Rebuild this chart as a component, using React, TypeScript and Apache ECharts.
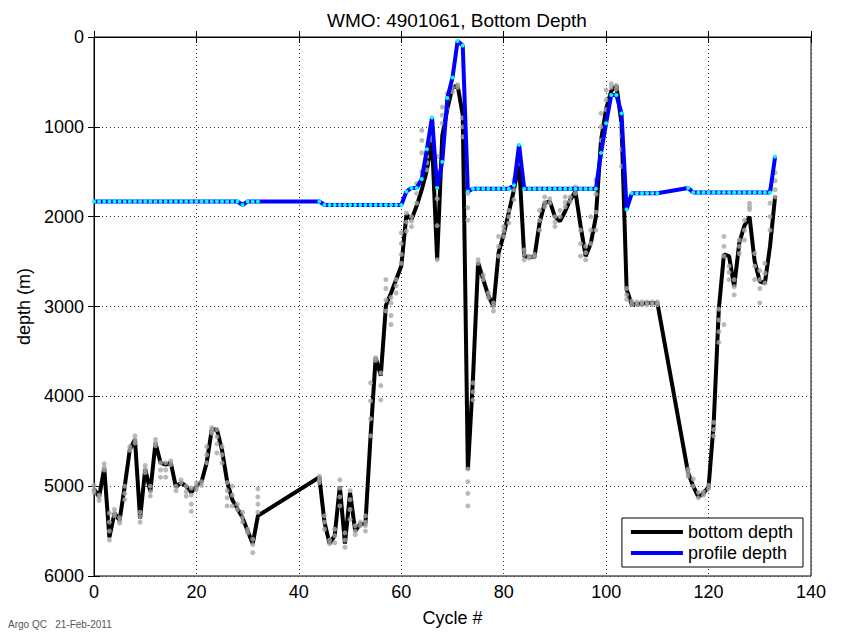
import React, { useEffect, useRef } from "react";
import * as echarts from "echarts";

const titleText = "WMO: 4901061, Bottom Depth";
const xName = "Cycle #";
const yName = "depth (m)";
const footText = "Argo QC   21-Feb-2011";

const xTicks = { min: 0, max: 140, interval: 20 };
const yTicks = { min: 0, max: 6000, interval: 1000 };

// bottom depth per cycle (index = cycle number), null = no value
const bottomDepth: (number | null)[] = [
  5030, 5120, 4800, 5570, 5300, 5380, 5000, 4590, 4480, 5360,
  4810, 5060, 4520, 4740, 4760, 4740, 5010, 4960, 5000, 5070,
  5000, 4950, 4740, 4370, 4370, 4600, 4950, 5150, 5250, 5350,
  5500, 5640, 5330, null, null, null, null, null, null, null,
  null, null, null, null, 4900, 5400, 5640, 5550, 5000, 5640,
  5070, 5500, 5420, 5420, 4440, 3570, 3770, 2990, 2850, 2700,
  2550, 1980, 2030, 1880, 1700, 1480, 1150, 2480, 1100, 800,
  560, 540, 870, 4820, 3800, 2510, 2700, 2880, 3000, 2400,
  2200, 1950, 1700, 1400, 2440, 2450, 2450, 2070, 1850, 1830,
  2000, 2050, 1940, 1810, 1720, 2100, 2440, 2300, 2000, 1150,
  800, 600, 540, 960, 2810, 2980, 2970, 2970, 2960, 2960,
  2960, null, null, null, null, null, 4850, 5000, 5120, 5080,
  5010, 4300, 3030, 2420, 2440, 2780, 2290, 2100, 2000, 2500,
  2720, 2740, 2330, 1770,
];

// profile depth per cycle (index = cycle number)
const profileDepth: (number | null)[] = [
  1830, 1830, 1830, 1830, 1830, 1830, 1830, 1830, 1830, 1830,
  1830, 1830, 1830, 1830, 1830, 1830, 1830, 1830, 1830, 1830,
  1830, 1830, 1830, 1830, 1830, 1830, 1830, 1830, 1830, 1870,
  1830, 1830, 1830, null, null, null, null, null, null, null,
  null, null, null, null, 1830, 1870, 1870, 1870, 1870, 1870,
  1870, 1870, 1870, 1870, 1870, 1870, 1870, 1870, 1870, 1870,
  1870, 1720, 1680, 1680, 1580, 1250, 895, 1680, 1390, 680,
  450, 45, 95, 1720, 1690, 1690, 1690, 1690, 1690, 1690,
  1690, 1690, 1650, 1200, 1690, 1690, 1690, 1690, 1690, 1690,
  1690, 1690, 1690, 1690, 1690, 1690, 1690, 1690, 1690, 1290,
  960, 645, 645, 850, 1920, 1740, 1740, 1740, 1740, 1740,
  1740, null, null, null, null, null, 1680, 1730, 1730, 1730,
  1730, 1730, 1730, 1730, 1730, 1730, 1730, 1730, 1730, 1730,
  1730, 1730, 1730, 1330,
];

// raw (gray) bottom depth estimates per cycle (index = cycle number)
const rawDepth: number[][] = [
  [4990, 5040, 5070], [5100, 5130, 5160], [4750, 4790, 4820], [5300, 5400, 5500, 5600],
  [5260, 5300, 5330], [5350, 5390, 5410], [5000, 5080, 5150], [4560, 4600],
  [4440, 4480, 4520], [5290, 5340, 5400], [4770, 4810, 4850], [5000, 5060, 5110],
  [4480, 4520, 4550], [4740, 4820, 4900], [4740, 4820, 4900], [4720, 4760],
  [5000, 5050], [4930, 4960], [5000, 5060, 5110], [5020, 5100, 5200, 5280],
  [4960, 5000, 5040], [4950, 4990], [4560, 4650, 4740], [4350, 4380, 4410],
  [4370, 4450, 4530, 4630], [4560, 4650, 4740], [4960, 5050, 5130, 5220], [5000, 5100, 5220],
  [5200, 5260], [5290, 5350, 5400], [5480, 5520], [5590, 5650, 5740],
  [5030, 5120, 5200, 5290], [], [], [], [], [], [], [], [], [], [], [],
  [4890, 4930, 4960], [5330, 5400, 5480], [5600, 5640], [5480, 5550, 5630],
  [4930, 5020, 5120, 5220], [5520, 5600, 5680], [5050, 5150, 5260, 5370], [5440, 5500, 5540],
  [5400, 5440], [5330, 5400, 5440, 5500], [3850, 4050, 4250, 4440], [3570, 3600],
  [3740, 3880, 4040], [2700, 2800, 2930, 3050], [2900, 2960, 3100, 3200], [2700, 2770, 2850],
  [2180, 2300, 2420, 2520], [1960, 2060, 2160], [2000, 2050, 2110], [1630, 1740, 1850],
  [1040, 1150, 1290, 1500], [1330, 1400, 1480], [960, 1050, 1150], [1330, 1500, 1800, 2100, 2480],
  [780, 870, 960], [630, 700, 800], [560, 610], [530, 560],
  [900, 1000, 1110], [1740, 1900, 2040, 4810, 4950, 5080, 5220], [3850, 3950, 4040], [2480, 2520],
  [2650, 2700], [2850, 2900], [2960, 3000, 3050], [2220, 2330, 2440],
  [2110, 2160, 2220], [1930, 2000, 2070], [1590, 1700, 1810], [1290, 1350, 1410],
  [2370, 2420, 2480], [2440, 2460], [2420, 2450], [1930, 2040, 2150],
  [1780, 1840, 1890], [1800, 1850], [2000, 2060, 2110], [1930, 2000],
  [1780, 1840, 1890], [1780, 1830], [1670, 1740], [2150, 2300, 2440],
  [2330, 2400, 2480], [2000, 2150, 2300], [1590, 1750, 1950, 2150], [850, 1000, 1150, 1330],
  [590, 700, 810], [520, 560], [540, 580], [960, 1100, 1250, 1440],
  [2800, 2870, 2920], [2940, 2980], [2950, 2980], [2950, 2980],
  [2950, 2980], [2950, 2980], [2950, 2980], [], [], [], [], [],
  [4810, 4850, 4890], [4920, 5000], [5070, 5130], [5060, 5100],
  [4990, 5030], [4290, 4370, 4440], [3030, 3150, 3280, 3400], [2220, 2330, 2440, 3200],
  [2550, 2620, 2700], [2700, 2780, 2870], [2260, 2330, 2410], [2040, 2150, 2260],
  [1850, 1890, 1920], [2410, 2550, 2700], [2600, 2700, 2800, 2960], [2520, 2630, 2740],
  [1700, 1850, 2000, 2150], [1510, 1600, 1700, 1780],
];

const FONT = "'Liberation Sans', Arial, Helvetica, sans-serif";

export default function App() {
  const ref = useRef<HTMLDivElement>(null);

  useEffect(() => {
    if (!ref.current) return;
    const chart = echarts.init(ref.current, null, { renderer: "svg" });

    const bottomData = bottomDepth.map((v, i) => [i, v]);
    const profileData = profileDepth.map((v, i) => [i, v]);
    const rawData: number[][] = [];
    rawDepth.forEach((arr, i) => arr.forEach((v) => rawData.push([i, v])));

    const splitLine = {
      show: true,
      lineStyle: { color: "#333", type: [1, 3] as any, width: 1 },
    };
    const plain = (v: number) => String(v);

    chart.setOption({
      animation: false,
      backgroundColor: "#fff",
      textStyle: { fontFamily: FONT },
      title: {
        text: titleText,
        left: 452,
        top: 6,
        textAlign: "center",
        textStyle: { fontSize: 19, fontWeight: "normal", color: "#000", fontFamily: FONT },
      },
      grid: {
        left: 94,
        right: 32,
        top: 37,
        bottom: 55,
        show: true,
        borderColor: "#000",
        borderWidth: 1,
        backgroundColor: "#fff",
      },
      legend: {
        orient: "vertical",
        right: 40,
        bottom: 65,
        padding: [5, 10, 5, 9],
        itemGap: 3,
        itemWidth: 52,
        itemHeight: 4,
        backgroundColor: "#fff",
        borderColor: "#000",
        borderWidth: 1,
        borderRadius: 0,
        textStyle: { fontSize: 18, color: "#000", fontFamily: FONT },
        data: [
          { name: "bottom depth", icon: "rect", itemStyle: { color: "#000" } },
          { name: "profile depth", icon: "rect", itemStyle: { color: "#0000ff" } },
        ],
      },
      xAxis: [
        {
          type: "value",
          position: "bottom",
          min: xTicks.min,
          max: xTicks.max,
          interval: xTicks.interval,
          name: xName,
          nameLocation: "middle",
          nameGap: 33,
          nameTextStyle: { fontSize: 18, color: "#000", fontFamily: FONT },
          axisLine: { show: true, lineStyle: { color: "#000", width: 1 } },
          axisTick: { show: true, inside: true, length: 6, lineStyle: { color: "#000" } },
          axisLabel: { fontSize: 18, color: "#000", margin: 7, fontFamily: FONT, formatter: plain },
          splitLine,
        },
        {
          type: "value",
          position: "top",
          min: xTicks.min,
          max: xTicks.max,
          interval: xTicks.interval,
          axisLine: { show: true, lineStyle: { color: "#000", width: 1 } },
          axisTick: { show: true, inside: true, length: 6, lineStyle: { color: "#000" } },
          axisLabel: { show: false },
          splitLine: { show: false },
        },
      ],
      yAxis: [
        {
          type: "value",
          position: "left",
          inverse: true,
          min: yTicks.min,
          max: yTicks.max,
          interval: yTicks.interval,
          name: yName,
          nameLocation: "middle",
          nameGap: 52,
          nameTextStyle: { fontSize: 18, color: "#000", fontFamily: FONT },
          axisLine: { show: true, lineStyle: { color: "#000", width: 1 } },
          axisTick: { show: true, inside: true, length: 6, lineStyle: { color: "#000" } },
          axisLabel: { fontSize: 18, color: "#000", margin: 10, fontFamily: FONT, formatter: plain },
          splitLine,
        },
        {
          type: "value",
          position: "right",
          inverse: true,
          min: yTicks.min,
          max: yTicks.max,
          interval: yTicks.interval,
          axisLine: { show: true, lineStyle: { color: "#000", width: 1 } },
          axisTick: { show: true, inside: true, length: 6, lineStyle: { color: "#000" } },
          axisLabel: { show: false },
          splitLine: { show: false },
        },
      ],
      series: [
        {
          name: "bottom depth",
          type: "line",
          data: bottomData,
          connectNulls: true,
          showSymbol: false,
          symbol: "none",
          lineStyle: { color: "#000", width: 4 },
          itemStyle: { color: "#000" },
          z: 2,
        },
        {
          name: "raw",
          type: "scatter",
          data: rawData,
          symbol: "circle",
          symbolSize: 5,
          itemStyle: { color: "#a8a8a8" },
          z: 3,
        },
        {
          name: "profile depth",
          type: "line",
          data: profileData,
          connectNulls: true,
          symbol: "circle",
          symbolSize: 4,
          showSymbol: true,
          showAllSymbol: true,
          lineStyle: { color: "#0000ff", width: 4 },
          itemStyle: { color: "#00ffff", borderWidth: 0 },
          z: 4,
        },
      ],
      graphic: [
        {
          type: "text",
          left: 8,
          top: 619,
          style: { text: footText, fontSize: 10, fill: "#555", fontFamily: FONT },
        },
      ],
    });

    return () => chart.dispose();
  }, []);

  return (
    <div
      ref={ref}
      style={{ position: "absolute", left: 0, top: 0, width: 843, height: 632 }}
    />
  );
}
